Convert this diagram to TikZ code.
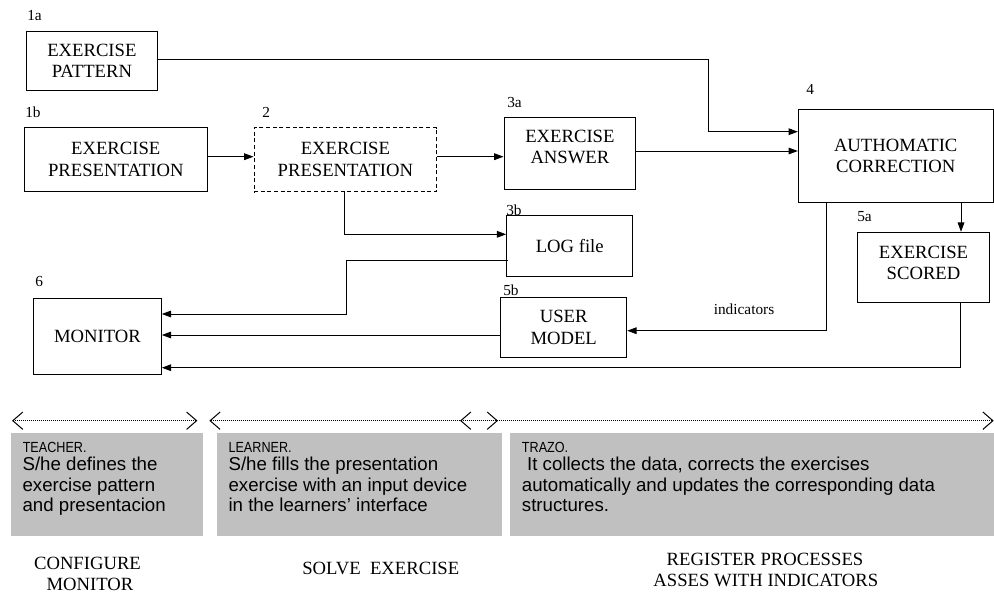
\documentclass[tikz,border=0pt]{standalone}
\usepackage{fontspec}
\setmainfont{Liberation Serif}
\newfontfamily\arialf{Liberation Sans}
\newfontfamily\arialn[FakeStretch=0.86]{Liberation Sans}
\usetikzlibrary{arrows.meta,calc}
\begin{document}
\begin{tikzpicture}[x=0.75pt,y=-0.75pt,
  bx/.style 2 args={draw,line width=0.75pt,rectangle,inner sep=0pt,minimum width=#1*0.75pt,minimum height=#2*0.75pt,align=center,font=\fontsize{14}{16.3}\selectfont},
  tag/.style={anchor=base west,inner sep=0pt,font=\fontsize{11.5}{13}\selectfont},
  txt/.style={inner sep=0pt,align=center,font=\fontsize{14}{16.3}\selectfont},
  arr/.style={line width=0.75pt,-{Triangle[length=7pt,width=5pt]}},
  span/.style={line width=0.5pt,dash pattern=on 0.6pt off 0.9pt,{Straight Barb[length=7.5pt,width=13pt,line width=0.75pt,sep=-0.5pt]}-{Straight Barb[length=7.5pt,width=13pt,line width=0.75pt,sep=-0.5pt]}},
  grey/.style={fill={rgb,255:red,192;green,192;blue,192},draw=none},
  gl/.style={anchor=base west,inner sep=0pt,font=\arialf\fontsize{14}{15.2}\selectfont},
  gs/.style={anchor=base west,inner sep=0pt,font=\arialn\fontsize{11}{12}\selectfont},
  bot/.style={anchor=base,inner sep=0pt,font=\fontsize{14}{16}\selectfont}
]
\useasboundingbox (0,0) rectangle (994,593);

% boxes
\node[bx={131.7}{58.3}] (a1) at (91.9,60.9) {EXERCISE\\PATTERN};
\node[bx={183}{64}] (b1) at (115.8,159.7) {EXERCISE\\PRESENTATION};
\node[bx={182.7}{64},dashed,dash pattern=on 3pt off 2pt] (b2) at (345.4,159.7) {EXERCISE\\PRESENTATION};
\node[bx={131.7}{71.3}] (a3) at (569.9,153.4) {};
\node[txt] (a3t) at (569.9,147) {EXERCISE\\ANSWER};
\node[bx={194.7}{93}] (c4) at (895.7,155.8) {AUTHOMATIC\\CORRECTION};
\node[bx={126}{61}] (l3) at (569.7,246.2) {LOG file};
\node[bx={126}{60.4}] (u5) at (563.7,327.5) {USER\\MODEL};
\node[bx={131.6}{70.4}] (s5) at (923.5,267.5) {};
\node[txt] (s5t) at (923.5,263) {EXERCISE\\SCORED};
\node[bx={127.6}{75.3}] (m6) at (97.5,336.4) {MONITOR};

% tags
\node[tag] (t1a) at (27,20.5) {1a};
\node[tag] (t1b) at (25,117) {1b};
\node[tag] (t2) at (262,117) {2};
\node[tag] (t3a) at (507,107) {3a};
\node[tag] (t3b) at (506,215) {3b};
\node[tag] (t4) at (806,94) {4};
\node[tag] (t5a) at (857,221) {5a};
\node[tag] (t5b) at (503,295) {5b};
\node[tag] (t6) at (35,286) {6};
\node[tag,anchor=center] (ind) at (744,309) {indicators};

% connectors
\draw[arr] (b1.east |- 0,156.7) -- (b2.west |- 0,156.7);
\draw[arr] (b2.east |- 0,156.7) -- (a3.west |- 0,156.7);
\draw[arr] (a1.east |- 0,59.3) -| (708.3,131.7) -- (c4.west |- 0,131.7);
\draw[arr] (a3.east |- 0,151) -- (c4.west |- 0,151);
\draw[arr] (b2.south -| 344.5,0) |- (l3.west |- 0,234.3);
\draw[arr] ([xshift=1pt]l3.west |- 0,260) -- (346,260) |- (m6.east |- 0,314);
\draw[arr] (u5.west |- 0,335) -- (m6.east |- 0,335);
\draw[arr] (s5.south -| 960,0) |- (m6.east |- 0,367.7);
\draw[arr] (c4.south -| 961,0) -- (s5.north -| 961,0);
\draw[arr] (c4.south -| 826,0) |- (u5.east |- 0,330.7);

% spans
\coordinate (s1a) at (12.7,420.7); \coordinate (s1b) at (196.7,420.7);
\coordinate (s2a) at (210,420.7); \coordinate (s2b) at (497.3,420.7);
\coordinate (s3a) at (460.7,420.7); \coordinate (s3b) at (993,420.7);
\draw[span] (s1a) -- (s1b);
\draw[span] (s2a) -- (s2b);
\draw[span] (s3a) -- (s3b);

% grey panels
\node[grey,anchor=north west,minimum width=191.7*0.75pt,minimum height=103.4*0.75pt,inner sep=0pt] (g1) at (11,432.3) {};
\node[grey,anchor=north west,minimum width=285*0.75pt,minimum height=103.4*0.75pt,inner sep=0pt] (g2) at (216.7,432.3) {};
\node[grey,anchor=north west,minimum width=484*0.75pt,minimum height=103.4*0.75pt,inner sep=0pt] (g3) at (510,432.3) {};

\node[gs] (g1h) at (22.5,452.7) {TEACHER.};
\node[gl] (g1l1) at (22.3,470.8) {S/he defines the};
\node[gl] (g1l2) at (22.3,491.2) {exercise pattern};
\node[gl] (g1l3) at (22.3,511.6) {and presentacion};

\node[gs] (g2h) at (228.3,452.7) {LEARNER.};
\node[gl] (g2l1) at (228.3,470.8) {S/he fills the presentation};
\node[gl] (g2l2) at (228.3,491.2) {exercise with an input device};
\node[gl] (g2l3) at (228.3,511.6) {in the learners’ interface};

\node[gs] (g3h) at (521.7,452.7) {TRAZO.};
\node[gl] (g3l1) at (521.7,470.8) {\ It collects the data, corrects the exercises};
\node[gl] (g3l2) at (521.7,491.2) {automatically and updates the corresponding data};
\node[gl] (g3l3) at (521.7,511.6) {structures.};

% bottom labels
\node[bot] (cf1) at (87.5,569.5) {CONFIGURE};
\node[bot] (cf2) at (90,590.5) {MONITOR};
\node[bot] (sv) at (380.8,574) {SOLVE\ \ EXERCISE};
\node[bot] (rg1) at (765,565) {REGISTER PROCESSES};
\node[bot] (rg2) at (765.8,586.7) {ASSES WITH INDICATORS};
\end{tikzpicture}
\end{document}
